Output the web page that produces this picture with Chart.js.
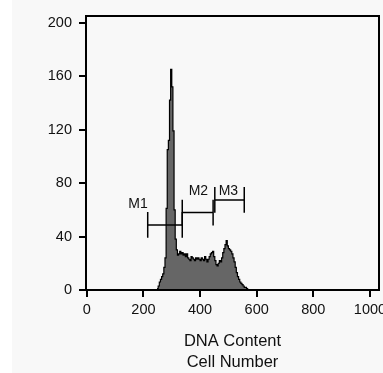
<!DOCTYPE html>
<html>
<head>
<meta charset="utf-8">
<title>DNA Content</title>
<script src="https://cdn.jsdelivr.net/npm/chart.js@4.4.1/dist/chart.umd.min.js"></script>
<style>
body { margin: 0; background: #ffffff; }
canvas { display: block; }
</style>
</head>
<body>
<canvas id="histogram" width="383" height="373"></canvas>
<script>
// left edge of each channel bin, and the cell count in it
const channels = [248, 252, 256, 260, 264, 268, 272, 276, 280, 284, 288, 292, 296, 300, 304, 308, 312, 316, 320,
    324, 328, 332, 336, 340, 344, 348, 352, 356, 360, 364, 368, 372, 376, 380, 384, 388, 392, 396, 400, 404, 408,
    412, 416, 420, 424, 428, 432, 436, 440, 444, 448, 452, 456, 460, 464, 468, 472, 476, 480, 484, 488, 492, 496,
    500, 504, 508, 512, 516, 520, 524, 528, 532, 536, 540, 544, 548, 552, 556, 560, 564, 568];
const counts = [1, 3, 6, 8, 10, 12, 17, 24, 61, 105, 112, 142, 165, 152, 119, 60, 38, 30, 26,
    27, 29, 27, 28, 26, 27, 25, 27, 24, 23, 22, 25, 24, 23, 22, 24, 23, 24, 23, 22, 24, 23,
    22, 25, 23, 21, 23, 25, 27, 28, 29, 25, 22, 19, 18, 20, 22, 21, 24, 28, 31, 34, 37, 33,
    31, 30, 29, 27, 24, 21, 17, 13, 10, 8, 6, 5, 4, 3, 2, 2, 1, 0];

// gate markers
const markerNames = ["M1", "M2", "M3"];
const markerStart = [215, 337, 452];
const markerEnd = [337, 446, 556];
const markerLevel = [48.7, 57.9, 67.4];
const markerLabelX = [181, 394, 500];
const markerLabelY = [64.4, 74.2, 74.2];

const xTitle = ["DNA Content", "Cell Number"];
const xTicks = [0, 200, 400, 600, 800, 1000];
const yTicks = [0, 40, 80, 120, 160, 200];

const markerHalf = 9.6;
const fontFamily = '"Liberation Sans", Arial, sans-serif';

window.onload = function() {
    drawChart();
}

function histogramPoints() {
    var points = [];
    for (let i = 0; i < channels.length; i++) {
        points.push({x: channels[i], y: counts[i]});
    }
    return points;
}

function markerPath(i) {
    var s = markerStart[i];
    var e = markerEnd[i];
    var l = markerLevel[i];
    return [
        {x: s, y: l - markerHalf}, {x: s, y: l + markerHalf}, {x: s, y: l},
        {x: e, y: l}, {x: e, y: l + markerHalf}, {x: e, y: l - markerHalf}
    ];
}

function tickList(values) {
    return values.map(function(v) { return {value: v}; });
}

function plainLabel(value) {
    return String(value);
}

const framePlugin = {
    id: "frame",
    beforeDraw(chart) {
        var ctx = chart.ctx;
        ctx.save();
        ctx.fillStyle = "#ffffff";
        ctx.fillRect(0, 0, chart.width, chart.height);
        ctx.fillStyle = "#f8f8f8";
        ctx.fillRect(12, 0, chart.width - 12, chart.height);
        ctx.restore();
    },
    afterDatasetsDraw(chart) {
        var ctx = chart.ctx;
        var area = chart.chartArea;
        ctx.save();
        ctx.strokeStyle = "#000000";
        ctx.lineWidth = 2;
        ctx.strokeRect(area.left, area.top, area.right - area.left, area.bottom - area.top);

        // marker names
        ctx.fillStyle = "#111111";
        ctx.font = "14px " + fontFamily;
        ctx.textAlign = "center";
        ctx.textBaseline = "middle";
        for (let i = 0; i < markerNames.length; i++) {
            ctx.fillText(markerNames[i], chart.scales.x.getPixelForValue(markerLabelX[i]),
                chart.scales.y.getPixelForValue(markerLabelY[i]));
        }
        ctx.restore();
    }
};

function drawChart() {
    var datasets = [{
        data: histogramPoints(),
        stepped: true,
        fill: "origin",
        backgroundColor: "#666666",
        borderColor: "#000000",
        borderWidth: 1.2,
        pointRadius: 0,
        order: 1
    }];
    for (let i = 0; i < markerNames.length; i++) {
        datasets.push({
            data: markerPath(i),
            fill: false,
            borderColor: "#000000",
            borderWidth: 1.5,
            pointRadius: 0,
            tension: 0,
            order: 0
        });
    }

    var chart = document.getElementById("histogram").getContext("2d");
    new Chart(chart, {
        type: "line",
        data: { datasets: datasets },
        options: {
            responsive: false,
            animation: false,
            devicePixelRatio: 1,
            layout: { padding: { top: 16, right: 4, left: 0, bottom: 0 } },
            plugins: {
                legend: { display: false },
                tooltip: { enabled: false }
            },
            scales: {
                x: {
                    type: "linear",
                    min: -3,
                    max: 1032,
                    border: { display: false },
                    grid: { drawOnChartArea: false, color: "#000000", lineWidth: 2, tickLength: 7 },
                    ticks: {
                        autoSkip: false,
                        maxRotation: 0,
                        padding: 4,
                        color: "#111111",
                        font: { family: fontFamily, size: 14.5 },
                        callback: plainLabel
                    },
                    title: {
                        display: true,
                        text: xTitle,
                        color: "#111111",
                        padding: { top: 0, bottom: 0 },
                        font: { family: fontFamily, size: 16.5, lineHeight: "21px" }
                    },
                    afterBuildTicks: function(scale) {
                        scale.ticks = tickList(xTicks);
                    },
                    afterFit: function(scale) {
                        scale.height = 83;
                        scale.paddingLeft = 0;
                        scale.paddingRight = 0;
                    }
                },
                y: {
                    min: 0,
                    max: 205,
                    border: { display: false },
                    grid: { drawOnChartArea: false, color: "#000000", lineWidth: 2, tickLength: 7 },
                    ticks: {
                        padding: 7,
                        color: "#111111",
                        font: { family: fontFamily, size: 14.5 },
                        callback: plainLabel
                    },
                    afterBuildTicks: function(scale) {
                        scale.ticks = tickList(yTicks);
                    },
                    afterFit: function(scale) {
                        scale.width = 86;
                        scale.paddingTop = 0;
                        scale.paddingBottom = 0;
                    }
                }
            }
        },
        plugins: [framePlugin]
    });
}
</script>
</body>
</html>
